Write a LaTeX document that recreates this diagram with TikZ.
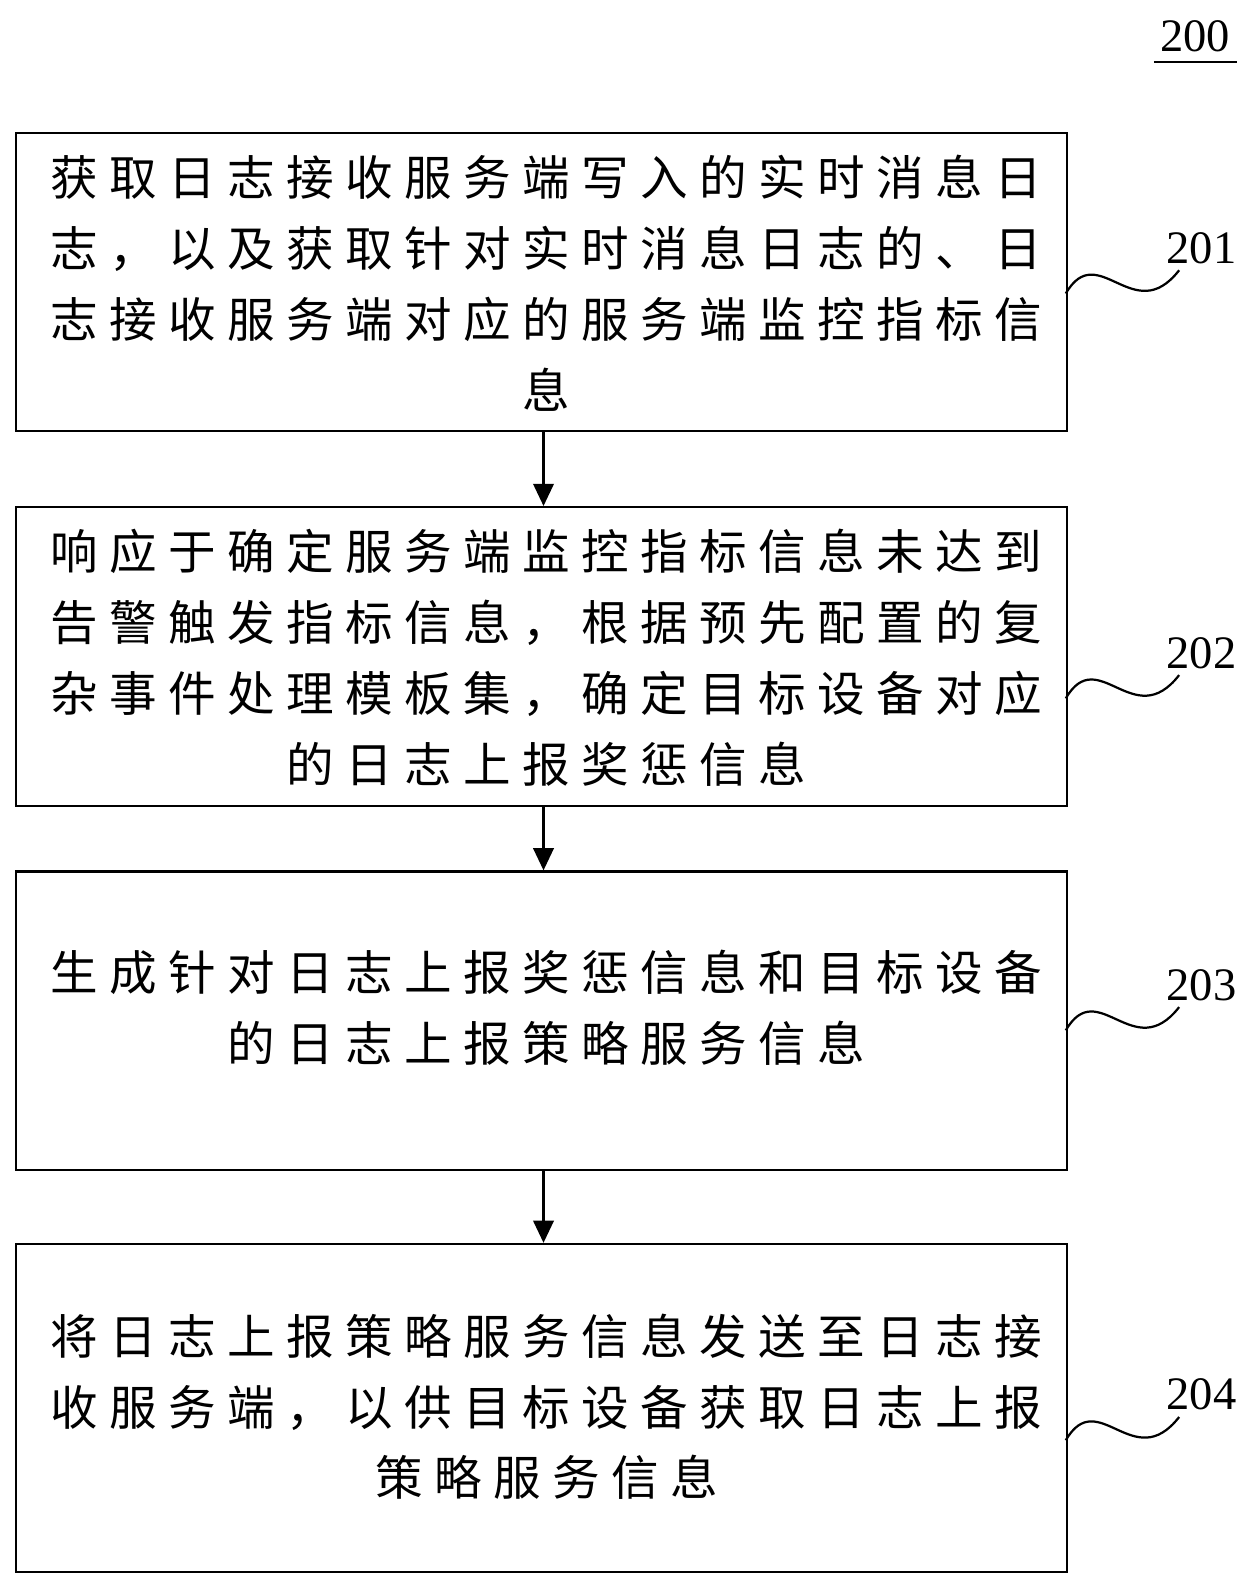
\documentclass[tikz,border=0pt]{standalone}
\usepackage{fontspec}
\setmainfont{Liberation Serif}
\newfontfamily\cjk[LetterSpace=24]{Noto Sans CJK SC}
\usetikzlibrary{arrows.meta}
\begin{document}
\begin{tikzpicture}[x=1pt,y=-1pt,
 box/.style={draw,line width=2.2pt,anchor=north west,inner sep=0pt},
 txt/.style={align=center,font=\cjk\fontsize{47}{70}\selectfont},
 num/.style={font=\fontsize{46}{46}\selectfont},
 arr/.style={line width=3pt,-{Triangle[length=22pt,width=20pt]}},
 wav/.style={line width=2.2pt}]
\useasboundingbox (0,0) rectangle (1236,1567);
\clip (0,0) rectangle (1236,1567);
\node[num] (n200) at (1181,36) {200};
\draw[line width=2pt] (1140,61) -- (1222,61);
\node[box,minimum width=1038pt,minimum height=295pt] (b1) at (15,130) {};
\node[box,minimum width=1038pt,minimum height=295pt] (b2) at (15,500) {};
\node[box,minimum width=1038pt,minimum height=295pt] (b3) at (15,860) {};
\node[box,minimum width=1038pt,minimum height=324pt] (b4) at (15,1228) {};
\node[txt] (t1) at (540,280) {获取日志接收服务端写入的实时消息日\\志，以及获取针对实时消息日志的、日\\志接收服务端对应的服务端监控指标信\\息};
\node[txt] (t2) at (540,650) {响应于确定服务端监控指标信息未达到\\告警触发指标信息，根据预先配置的复\\杂事件处理模板集，确定目标设备对应\\的日志上报奖惩信息};
\node[txt,anchor=north] (t3) at (540,935) {生成针对日志上报奖惩信息和目标设备\\的日志上报策略服务信息};
\node[txt] (t4) at (540,1390) {将日志上报策略服务信息发送至日志接\\收服务端，以供目标设备获取日志上报\\策略服务信息};
\draw[arr] (b1.south -| 537,0) -- (b2.north -| 537,0);
\draw[arr] (b2.south -| 537,0) -- (b3.north -| 537,0);
\draw[arr] (b3.south -| 537,0) -- (b4.north -| 537,0);
\foreach \n/\y in {201/245,202/645,203/973,204/1378}{
 \node[num] (l\n) at (1187,\y) {\n};
 \coordinate (s\n) at (1053,\y+45);
 \coordinate (e\n) at (1165,\y+22);
 \draw[wav] (s\n) .. controls (1085,\y-10) and (1120,\y+80) .. (e\n);
}
\end{tikzpicture}
\end{document}
